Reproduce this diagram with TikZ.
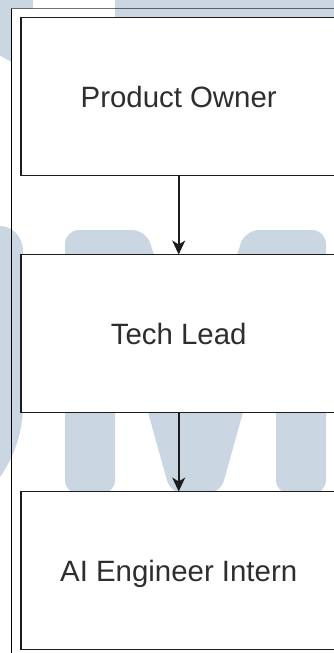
\documentclass[tikz,border=0pt]{standalone}
\usepackage{fontspec}
\setmainfont{Liberation Sans}
\usetikzlibrary{arrows.meta}
\definecolor{wm}{RGB}{202,215,227}
\definecolor{ink}{HTML}{1c1c1c}
\definecolor{txt}{HTML}{2e2e2e}
\tikzset{
  rolebox/.style={draw=ink, line width=1.9pt, fill=white, inner sep=0pt, outer sep=0pt,
    minimum width=316pt, minimum height=158pt, text height=21pt, text depth=0pt,
    text=txt, font=\fontsize{29.4pt}{35pt}\selectfont},
  link/.style={draw=ink, line width=1.6pt, -{Stealth[length=14pt,width=13pt,inset=4pt]}},
  wmshape/.style={fill=wm, draw=none}
}
\begin{document}
\begin{tikzpicture}[x=1pt,y=-1pt]
\useasboundingbox (0,0) rectangle (334,653);
\clip (0,0) rectangle (334,653);
\fill[white] (0,0) rectangle (334,653);

% background lettering
\path[wmshape] (-2,-2) -- (33,-2) -- (33,8.5) -- (11.5,8.5) -- (11.5,62) -- (-2,54.5) -- cycle;
\path[wmshape] (115,-2) rectangle (340,60);
\path[wmshape] (-5,226) -- (0,226) .. controls (12,226) and (23,236) .. (23,252)
  -- (23,405) .. controls (23,435) and (12,460) .. (0,477) -- (-5,477) -- cycle;
\path[wmshape, rounded corners=14pt] (65,494) -- (65,230) -- (146,230) -- (195.5,385)
  -- (245,230) -- (326,230) -- (326,494) -- (276,494) -- (276,294) -- (220.2,494)
  -- (170.8,494) -- (115,294) -- (115,494) -- cycle;

% outer frame
\draw[black, line width=1pt] (11.5,8.5) -- (11.5,660);
\draw[black, opacity=0.55, line width=1.4pt] (11,8.5) -- (340,8.5);

% role boxes
\node[rolebox] (po) at (178.7,96.5) {Product Owner};
\node[rolebox] (tl) at (178.7,333.5) {Tech Lead};
\node[rolebox] (ai) at (178.7,570.5) {AI Engineer Intern};

% reporting lines
\draw[link] (po.south) -- (tl.north);
\draw[link] (tl.south) -- (ai.north);
\end{tikzpicture}
\end{document}
